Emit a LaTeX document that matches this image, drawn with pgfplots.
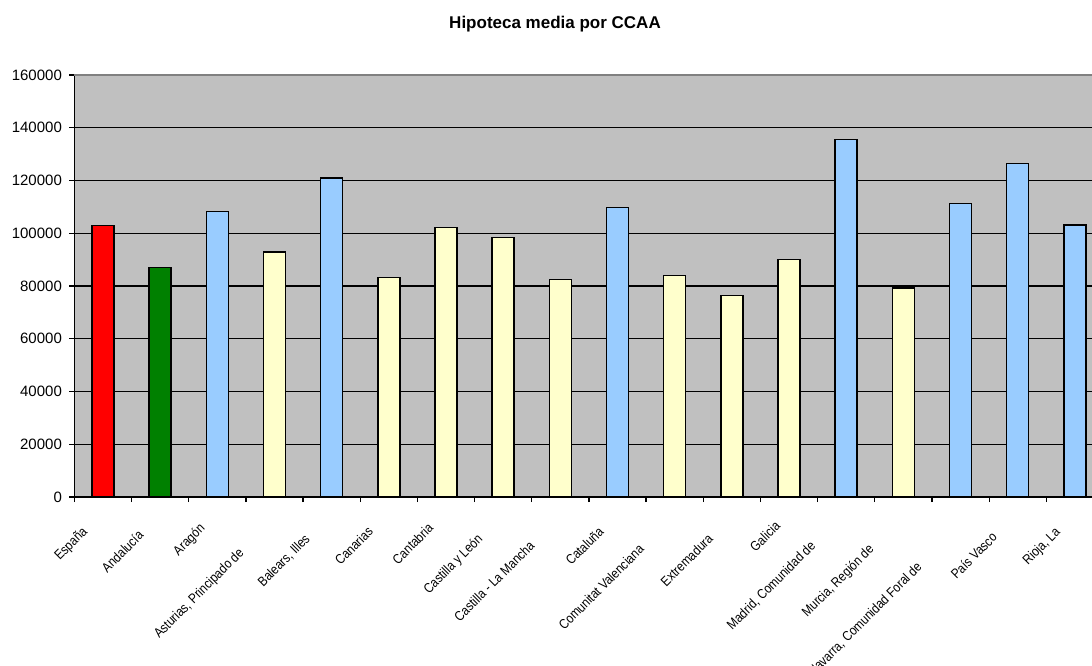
\documentclass[border=0pt]{standalone}
\usepackage{fontspec}
\setmainfont{Liberation Sans}
\usepackage{pgfplots}
\pgfplotsset{compat=1.18}
\definecolor{bggray}{RGB}{192,192,192}
\definecolor{barred}{RGB}{255,0,0}
\definecolor{bargreen}{RGB}{0,128,0}
\definecolor{barblue}{RGB}{153,204,255}
\definecolor{baryellow}{RGB}{255,255,204}
\definecolor{topgray}{RGB}{128,128,128}
\newfontfamily\condfont[FakeStretch=0.86]{Liberation Sans}
\newcommand{\lbl}{\condfont\fontsize{13.6}{15}\selectfont}
\tikzset{lab/.style={rotate=45, anchor=north east, inner sep=0pt, font=\lbl}}
\begin{document}
\begin{tikzpicture}
\begin{axis}[
  at={(0,0)}, anchor=south west,
  scale only axis,
  clip=false,
  width=1017.6pt, height=422pt,
  xmin=-0.5, xmax=17.3,
  ymin=0, ymax=160000,
  axis x line*=bottom, axis y line*=left,
  axis line style={black, line width=1.2pt, -},
  axis background/.style={fill=bggray},
  ytick={0,20000,40000,60000,80000,100000,120000,140000,160000},
  yticklabels={0,20000,40000,60000,80000,100000,120000,140000,160000},
  scaled y ticks=false,
  xtick={-0.5,0.5,...,16.5},
  xticklabels={},
  tick align=outside,
  major tick length=5pt,
  tick style={black, line width=1.2pt},
  ymajorgrids,
  grid style={black, line width=1.2pt},
  yticklabel style={font=\fontsize{15}{18}\selectfont, xshift=-4pt},
  title={\textbf{Hipoteca media por CCAA}},
  title style={font=\fontsize{17}{20}\selectfont, at={(axis description cs:0.4723,1.107)}, anchor=center},
  mybar/.style={ybar, bar width=0.385, bar shift=0pt, draw=black, line width=1.4pt},
]
\addplot[mybar, fill=barred] coordinates {(0,103000)};
\addplot[mybar, fill=bargreen] coordinates {(1,87000)};
\addplot[mybar, fill=barblue] coordinates {(2,108200) (4,120900) (9,109800) (13,135600) (15,111200) (16,126500) (17,103100)};
\addplot[mybar, fill=baryellow] coordinates {(3,92900) (5,83200) (6,102200) (7,98300) (8,82500) (10,83900) (11,76300) (12,90100) (14,79200)};
\draw[topgray, line width=1.5pt] (rel axis cs:0,1) -- (rel axis cs:1,1);
\node[lab] at ([xshift=-22pt, yshift=-28.6pt]axis cs:0,0) {España};
\node[lab] at ([xshift=-23pt, yshift=-32pt]axis cs:1,0) {Andalucía};
\node[lab] at ([xshift=-19pt, yshift=-25pt]axis cs:2,0) {Aragón};
\node[lab] at ([xshift=-37pt, yshift=-49.6pt]axis cs:3,0) {Asturias, Principado de};
\node[lab] at ([xshift=-28pt, yshift=-35.6pt]axis cs:4,0) {Balears, Illes};
\node[lab] at ([xshift=-22pt, yshift=-28.6pt]axis cs:5,0) {Canarias};
\node[lab] at ([xshift=-19pt, yshift=-25pt]axis cs:6,0) {Cantabria};
\node[lab] at ([xshift=-27pt, yshift=-35.6pt]axis cs:7,0) {Castilla y León};
\node[lab] at ([xshift=-32pt, yshift=-42.6pt]axis cs:8,0) {Castilla - La Mancha};
\node[lab] at ([xshift=-20pt, yshift=-28.6pt]axis cs:9,0) {Cataluña};
\node[lab] at ([xshift=-37pt, yshift=-46pt]axis cs:10,0) {Comunitat Valenciana};
\node[lab] at ([xshift=-25pt, yshift=-35.6pt]axis cs:11,0) {Extremadura};
\node[lab] at ([xshift=-15pt, yshift=-23pt]axis cs:12,0) {Galicia};
\node[lab] at ([xshift=-37pt, yshift=-42.6pt]axis cs:13,0) {Madrid, Comunidad de};
\node[lab] at ([xshift=-36pt, yshift=-46pt]axis cs:14,0) {Murcia, Región de};
\node[lab] at ([xshift=-45pt, yshift=-63.7pt]axis cs:15,0) {Navarra, Comunidad Foral de};
\node[lab] at ([xshift=-27pt, yshift=-34pt]axis cs:16,0) {País Vasco};
\node[lab] at ([xshift=-21pt, yshift=-28.6pt]axis cs:17,0) {Rioja, La};
\end{axis}
\pgfresetboundingbox
\path[use as bounding box] (-74.4pt,-169pt) rectangle (1017.6pt,497pt);
\end{tikzpicture}
\end{document}
